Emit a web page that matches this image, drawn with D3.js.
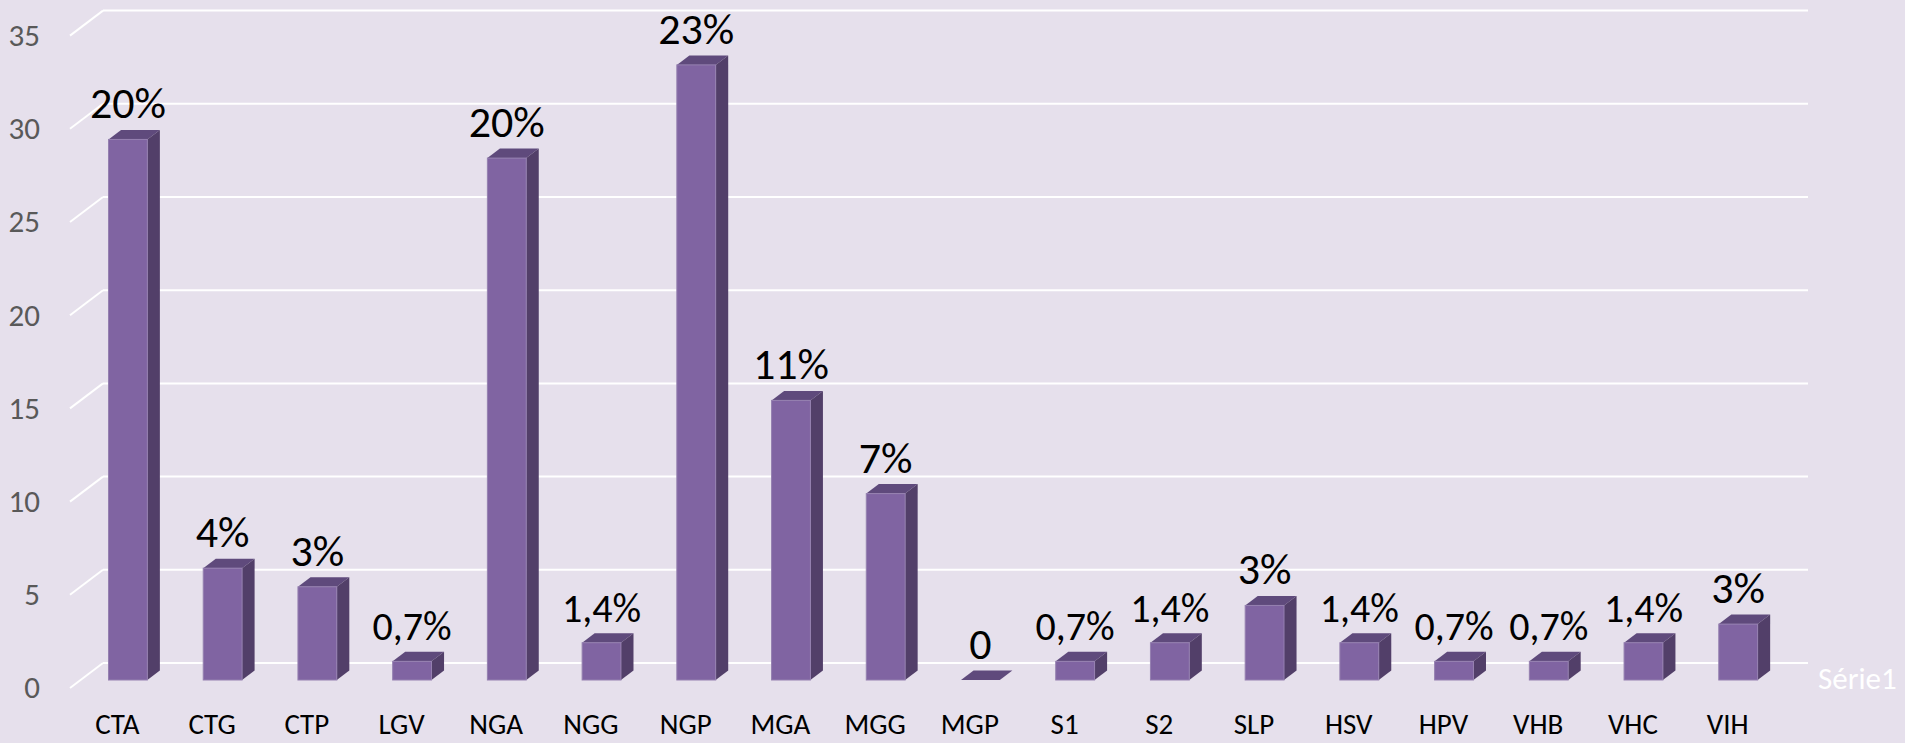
<!DOCTYPE html>
<html lang="fr">
<head>
<meta charset="UTF-8">
<script src="https://cdn.jsdelivr.net/npm/d3@7/dist/d3.min.js"></script>
<title>Série1</title>
<style>
  body { margin: 0; background: #E6E0EC; }
  svg { display: block; font-family: Carlito, Calibri, Lato, sans-serif; }
</style>
</head>
<body>
<script>
  // données
  const categories = ["CTA","CTG","CTP","LGV","NGA","NGG","NGP","MGA","MGG","MGP","S1","S2","SLP","HSV","HPV","VHB","VHC","VIH"]
  const values = [29, 6, 5, 1, 28, 2, 33, 15, 10, 0, 1, 2, 4, 2, 1, 1, 2, 3]
  const labels = ["20%","4%","3%","0,7%","20%","1,4%","23%","11%","7%","0","0,7%","1,4%","3%","1,4%","0,7%","0,7%","1,4%","3%"]
  const yTicks = [0, 5, 10, 15, 20, 25, 30, 35]
  const seriesName = "Série1"

  const width = 1905, height = 743
  // coin avant-gauche du sol et vecteur de profondeur
  const floorX = 70
  const depthX = 33, depthY = 25
  const plotW = 1705
  const barFront = 0.32, barBack = 0.70

  const data = categories.map((c, i) => ({ name: c, value: values[i], label: labels[i] }))

  const x = d3.scaleBand().domain(categories).range([0, plotW]).paddingInner(0.59).paddingOuter(0.295)
  // y sur le plan avant
  const y = d3.scaleLinear().domain([0, 35]).range([688, 35.6])

  // point (position x, valeur, profondeur 0..1) -> écran
  const pt = (px, v, d) => [floorX + px + d * depthX, y(v) - d * depthY]

  const svg = d3.select("body").append("svg").attr("width", width).attr("height", height)
  svg.append("rect").attr("width", width).attr("height", height).attr("fill", "#E6E0EC")

  // quadrillage: mur du fond + diagonale du côté
  const grid = svg.append("g").attr("stroke", "#fff").attr("stroke-width", 2).attr("fill", "none")
  grid.selectAll(".back").data(yTicks).enter().append("line")
    .attr("class", "back")
    .attr("x1", d => pt(0, d, 1)[0]).attr("y1", d => pt(0, d, 1)[1])
    .attr("x2", d => pt(plotW, d, 1)[0]).attr("y2", d => pt(plotW, d, 1)[1])
  grid.selectAll(".side").data(yTicks).enter().append("line")
    .attr("class", "side")
    .attr("x1", d => pt(0, d, 0)[0]).attr("y1", d => pt(0, d, 0)[1])
    .attr("x2", d => pt(0, d, 1)[0]).attr("y2", d => pt(0, d, 1)[1])

  // axe y
  const yAxis = svg.append("g").attr("transform", `translate(${floorX},0)`)
    .call(d3.axisLeft(y).tickValues(yTicks).tickSize(0).tickPadding(30))
    .attr("font-family", null).attr("font-size", null)
  yAxis.select(".domain").remove()
  yAxis.selectAll("text").attr("font-size", 31).attr("fill", "#595959")

  // axe x
  const xAxis = svg.append("g").attr("transform", `translate(${floorX},${y(0)})`)
    .call(d3.axisBottom(x).tickSize(0).tickPadding(25))
    .attr("font-family", null).attr("font-size", null)
  xAxis.select(".domain").remove()
  xAxis.selectAll("text").attr("font-size", 29).attr("fill", "#000")

  // barres 3D
  const bars = svg.selectAll(".bar").data(data).enter().append("g").attr("class", "bar")
  const poly = pts => pts.map(p => p.join(",")).join(" ")

  bars.append("polygon")
    .attr("fill", "#5F4A7C")
    .attr("points", d => {
      const x0 = x(d.name), x1 = x(d.name) + x.bandwidth()
      return poly([pt(x0, d.value, barFront), pt(x1, d.value, barFront), pt(x1, d.value, barBack), pt(x0, d.value, barBack)])
    })
  bars.append("polygon")
    .attr("fill", "#523F69")
    .attr("points", d => {
      const x1 = x(d.name) + x.bandwidth()
      return poly([pt(x1, d.value, barFront), pt(x1, d.value, barBack), pt(x1, 0, barBack), pt(x1, 0, barFront)])
    })
  bars.append("rect")
    .attr("fill", "#8064A2")
    .attr("stroke", "#9580B0").attr("stroke-width", 1)
    .attr("x", d => pt(x(d.name), d.value, barFront)[0])
    .attr("y", d => pt(x(d.name), d.value, barFront)[1])
    .attr("width", x.bandwidth())
    .attr("height", d => y(0) - y(d.value))

  // étiquettes
  svg.selectAll(".lbl").data(data).enter().append("text")
    .attr("class", "lbl")
    .attr("x", d => pt(x(d.name) + x.bandwidth() / 2, d.value, barFront)[0])
    .attr("y", d => pt(x(d.name), d.value, barFront)[1] - 21)
    .attr("text-anchor", "middle")
    .attr("font-size", d => d.label.includes(",") ? 40 : 44)
    .attr("fill", "#000")
    .text(d => d.label)

  // nom de série (axe de profondeur)
  const sp = pt(plotW, 0, 1)
  svg.append("text")
    .attr("x", sp[0] + 10).attr("y", sp[1] + 15)
    .attr("dominant-baseline", "central")
    .attr("font-size", 31)
    .attr("fill", "#fff")
    .text(seriesName)
</script>
</body>
</html>
